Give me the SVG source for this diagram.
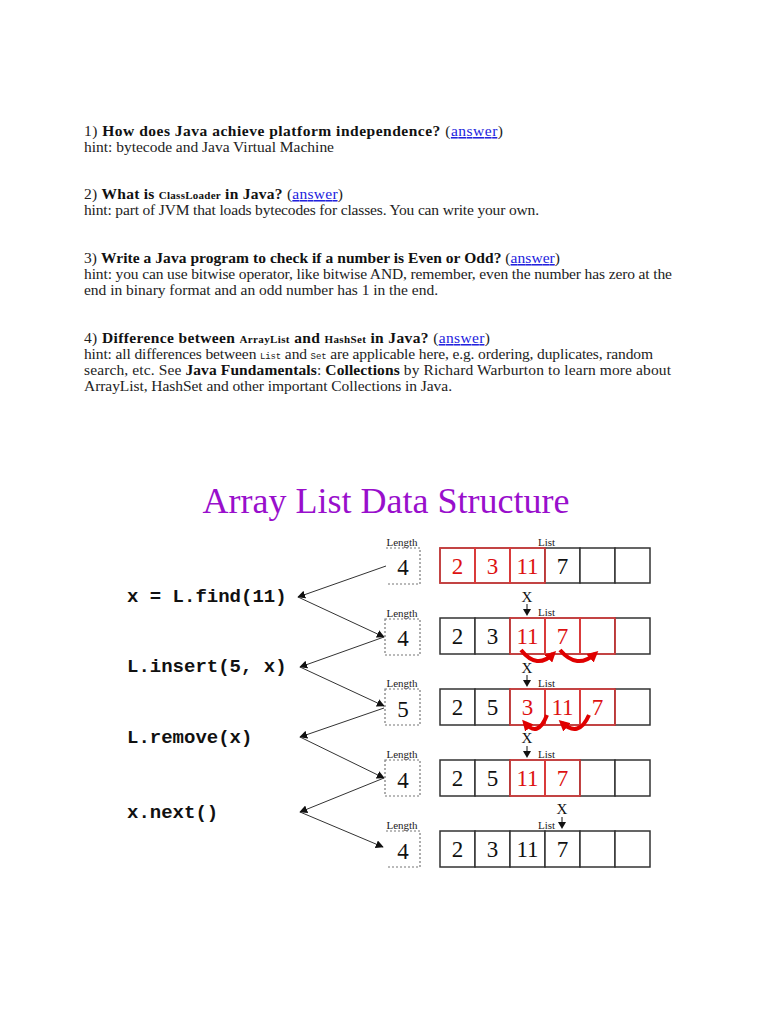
<svg xmlns="http://www.w3.org/2000/svg" width="768" height="1024" viewBox="0 0 768 1024">
<style>
.t{font-family:"Liberation Serif","Times New Roman",serif;font-size:15.5px;fill:#222}
.b{font-weight:bold;fill:#111}
.sm{font-size:11px;font-weight:bold}
.mono{font-family:"Liberation Mono",monospace;font-size:9px}
.lnk{fill:#2222dd;text-decoration:underline}
.code{font-family:"Liberation Mono","Courier New",monospace;font-size:19px;font-weight:bold;fill:#111}
.cell{fill:#fff;stroke:#333;stroke-width:1.5}
.rcell{fill:none;stroke:#e23a3a;stroke-width:1.5}
.num{font-family:"Liberation Serif","Times New Roman",serif;font-size:23px;fill:#111;text-anchor:middle}
.rnum{fill:#dd1111}
.len{fill:none;stroke:#777;stroke-width:1.2;stroke-dasharray:2,2}
.lab{font-family:"Liberation Serif","Times New Roman",serif;font-size:11px;fill:#222}
.x{font-family:"Liberation Serif","Times New Roman",serif;font-size:15px;fill:#111;text-anchor:middle}
.conn{stroke:#333;stroke-width:1;fill:none;marker-end:url(#ah)}
.curve{stroke:#e00000;stroke-width:4;fill:none;marker-end:url(#rh)}
</style>
<defs>
<marker id="ah" viewBox="0 0 10 10" refX="9" refY="5" markerWidth="8" markerHeight="8" markerUnits="userSpaceOnUse" orient="auto"><path d="M0,0 L10,5 L0,10 z" fill="#111"/></marker>
<marker id="rh" viewBox="0 0 10 10" refX="6" refY="5" markerWidth="11" markerHeight="11" markerUnits="userSpaceOnUse" orient="auto"><path d="M0,0 L10,5 L0,10 z" fill="#e00000"/></marker>
</defs>
<rect width="768" height="1024" fill="#fff"/>

<g id="text-questions">
<text class="t" x="84" y="136" textLength="419" lengthAdjust="spacing">1) <tspan class="b">How does Java achieve platform independence?</tspan> (<tspan class="lnk">answer</tspan>)</text>
<text class="t" x="84" y="152" textLength="250" lengthAdjust="spacing">hint: bytecode and Java Virtual Machine</text>
<text class="t" x="84" y="199" textLength="259" lengthAdjust="spacing">2) <tspan class="b">What is </tspan><tspan class="b sm">ClassLoader</tspan><tspan class="b"> in Java?</tspan> (<tspan class="lnk">answer</tspan>)</text>
<text class="t" x="84" y="215" textLength="455" lengthAdjust="spacing">hint: part of JVM that loads bytecodes for classes. You can write your own.</text>
<text class="t" x="84" y="263" textLength="476" lengthAdjust="spacing">3) <tspan class="b">Write a Java program to check if a number is Even or Odd?</tspan> (<tspan class="lnk">answer</tspan>)</text>
<text class="t" x="84" y="279" textLength="588" lengthAdjust="spacing">hint: you can use bitwise operator, like bitwise AND, remember, even the number has zero at the</text>
<text class="t" x="84" y="295" textLength="354" lengthAdjust="spacing">end in binary format and an odd number has 1 in the end.</text>
<text class="t" x="84" y="343" textLength="406" lengthAdjust="spacing">4) <tspan class="b">Difference between </tspan><tspan class="b sm">ArrayList</tspan><tspan class="b"> and </tspan><tspan class="b sm">HashSet</tspan><tspan class="b"> in Java?</tspan> (<tspan class="lnk">answer</tspan>)</text>
<text class="t" x="84" y="359" textLength="569" lengthAdjust="spacing">hint: all differences between <tspan class="mono">List</tspan> and <tspan class="mono">Set</tspan> are applicable here, e.g. ordering, duplicates, random</text>
<text class="t" x="84" y="375" textLength="587" lengthAdjust="spacing">search, etc. See <tspan class="b">Java Fundamentals</tspan>: <tspan class="b">Collections</tspan> by Richard Warburton to learn more about</text>
<text class="t" x="84" y="391" textLength="368" lengthAdjust="spacing">ArrayList, HashSet and other important Collections in Java.</text>
</g>

<text id="title" x="386" y="513" text-anchor="middle" font-family="Liberation Serif, Times New Roman, serif" font-size="36" fill="#990fcc">Array List Data Structure</text>

<g id="op-find"><text class="code" x="127" y="602">x = L.find(11)</text></g>
<g id="op-insert"><text class="code" x="127" y="672">L.insert(5, x)</text></g>
<g id="op-remove"><text class="code" x="127" y="743">L.remove(x)</text></g>
<g id="op-next"><text class="code" x="127" y="818">x.next()</text></g>

<g id="len-1">
<text class="lab" x="402" y="546" text-anchor="middle">Length</text>
<path class="len" d="M386,548 H420 V584 H386"/>
<text class="num" x="403" y="575" font-size="25">4</text>
</g>
<g id="len-2">
<text class="lab" x="402" y="617" text-anchor="middle">Length</text>
<rect class="len" x="385" y="619" width="35" height="36"/>
<text class="num" x="403" y="646" font-size="25">4</text>
</g>
<g id="len-3">
<text class="lab" x="402" y="687" text-anchor="middle">Length</text>
<rect class="len" x="385" y="689" width="35" height="36"/>
<text class="num" x="403" y="717" font-size="25">5</text>
</g>
<g id="len-4">
<text class="lab" x="402" y="758" text-anchor="middle">Length</text>
<rect class="len" x="385" y="760" width="35" height="36"/>
<text class="num" x="403" y="788" font-size="25">4</text>
</g>
<g id="len-5">
<text class="lab" x="402" y="829" text-anchor="middle">Length</text>
<path class="len" d="M386,831 H420 V867 H386"/>
<text class="num" x="403" y="859" font-size="25">4</text>
</g>

<g id="list-1">
<text class="lab" x="538" y="546">List</text>
<rect class="cell" x="440" y="548" width="35" height="35"/><rect class="cell" x="475" y="548" width="35" height="35"/><rect class="cell" x="510" y="548" width="35" height="35"/><rect class="cell" x="545" y="548" width="35" height="35"/><rect class="cell" x="580" y="548" width="35" height="35"/><rect class="cell" x="615" y="548" width="35" height="35"/>
<rect class="rcell" x="440" y="548" width="35" height="35"/><rect class="rcell" x="475" y="548" width="35" height="35"/><rect class="rcell" x="510" y="548" width="35" height="35"/>
<text class="num rnum" x="457.5" y="574">2</text><text class="num rnum" x="492.5" y="574">3</text><text class="num rnum" x="527.5" y="574">11</text><text class="num" x="562.5" y="574">7</text>
</g>

<g id="list-2">
<text class="x" x="527" y="602">X</text>
<path d="M527,604 V610" stroke="#111" stroke-width="1"/><path d="M523,609 H531 L527,616 z" fill="#111"/>
<text class="lab" x="538" y="616">List</text>
<rect class="cell" x="440" y="618" width="35" height="36"/><rect class="cell" x="475" y="618" width="35" height="36"/><rect class="cell" x="510" y="618" width="35" height="36"/><rect class="cell" x="545" y="618" width="35" height="36"/><rect class="cell" x="580" y="618" width="35" height="36"/><rect class="cell" x="615" y="618" width="35" height="36"/>
<rect class="rcell" x="510" y="618" width="35" height="36"/><rect class="rcell" x="545" y="618" width="35" height="36"/><rect class="rcell" x="580" y="618" width="35" height="36"/>
<text class="num" x="457.5" y="644">2</text><text class="num" x="492.5" y="644">3</text><text class="num rnum" x="527.5" y="644">11</text><text class="num rnum" x="562.5" y="644">7</text>
<path class="curve" d="M521,650 Q537,670 553,654"/>
<path class="curve" d="M560,650 Q577,670 595,654"/>
</g>

<g id="list-3">
<text class="x" x="527" y="673">X</text>
<path d="M527,675 V681" stroke="#111" stroke-width="1"/><path d="M523,680 H531 L527,687 z" fill="#111"/>
<text class="lab" x="538" y="687">List</text>
<rect class="cell" x="440" y="689" width="35" height="36"/><rect class="cell" x="475" y="689" width="35" height="36"/><rect class="cell" x="510" y="689" width="35" height="36"/><rect class="cell" x="545" y="689" width="35" height="36"/><rect class="cell" x="580" y="689" width="35" height="36"/><rect class="cell" x="615" y="689" width="35" height="36"/>
<rect class="rcell" x="510" y="689" width="35" height="36"/><rect class="rcell" x="545" y="689" width="35" height="36"/><rect class="rcell" x="580" y="689" width="35" height="36"/>
<text class="num" x="457.5" y="715">2</text><text class="num" x="492.5" y="715">5</text><text class="num rnum" x="527.5" y="715">3</text><text class="num rnum" x="562.5" y="715">11</text><text class="num rnum" x="597.5" y="715">7</text>
<path class="curve" d="M547,715 Q538,738 525,723"/>
<path class="curve" d="M589,715 Q579,738 562,723"/>
</g>

<g id="list-4">
<text class="x" x="527" y="743">X</text>
<path d="M527,746 V752" stroke="#111" stroke-width="1"/><path d="M523,751 H531 L527,758 z" fill="#111"/>
<text class="lab" x="538" y="758">List</text>
<rect class="cell" x="440" y="760" width="35" height="36"/><rect class="cell" x="475" y="760" width="35" height="36"/><rect class="cell" x="510" y="760" width="35" height="36"/><rect class="cell" x="545" y="760" width="35" height="36"/><rect class="cell" x="580" y="760" width="35" height="36"/><rect class="cell" x="615" y="760" width="35" height="36"/>
<rect class="rcell" x="510" y="760" width="35" height="36"/><rect class="rcell" x="545" y="760" width="35" height="36"/>
<text class="num" x="457.5" y="786">2</text><text class="num" x="492.5" y="786">5</text><text class="num rnum" x="527.5" y="786">11</text><text class="num rnum" x="562.5" y="786">7</text>
</g>

<g id="list-5">
<text class="x" x="562" y="814">X</text>
<path d="M562,817 V823" stroke="#111" stroke-width="1"/><path d="M558,822 H566 L562,829 z" fill="#111"/>
<text class="lab" x="538" y="829">List</text>
<rect class="cell" x="440" y="831" width="35" height="36"/><rect class="cell" x="475" y="831" width="35" height="36"/><rect class="cell" x="510" y="831" width="35" height="36"/><rect class="cell" x="545" y="831" width="35" height="36"/><rect class="cell" x="580" y="831" width="35" height="36"/><rect class="cell" x="615" y="831" width="35" height="36"/>
<text class="num" x="457.5" y="857">2</text><text class="num" x="492.5" y="857">3</text><text class="num" x="527.5" y="857">11</text><text class="num" x="562.5" y="857">7</text>
</g>

<g id="connectors">
<path class="conn" d="M386,566 L298,597"/>
<path class="conn" d="M298,597 L384,637"/>
<path class="conn" d="M384,637 L300,667"/>
<path class="conn" d="M300,667 L384,706"/>
<path class="conn" d="M384,708 L300,737"/>
<path class="conn" d="M300,737 L384,778"/>
<path class="conn" d="M384,778 L300,812"/>
<path class="conn" d="M300,812 L383,847"/>
</g>
</svg>
